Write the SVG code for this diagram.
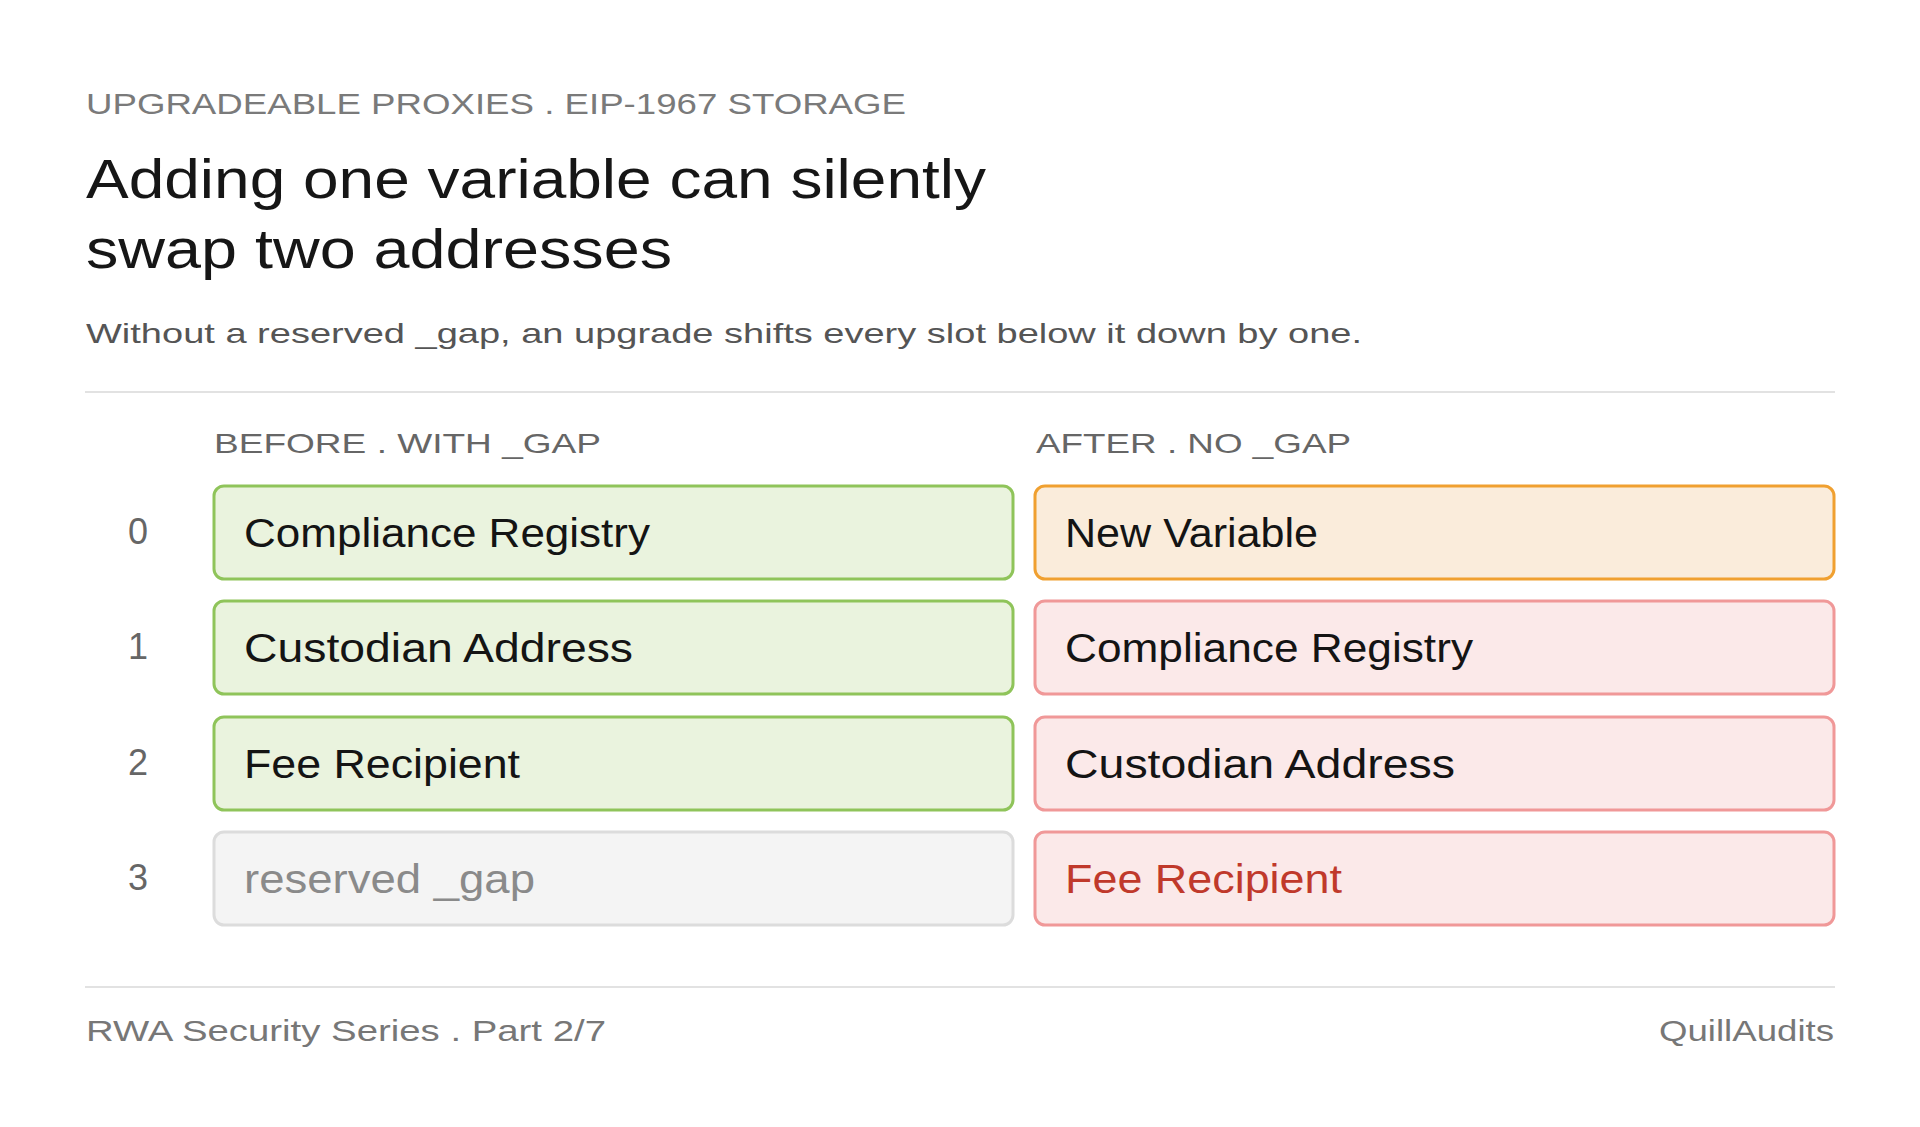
<svg xmlns="http://www.w3.org/2000/svg" width="1920" height="1127" viewBox="0 0 1920 1127">
<style>
  text { font-family: "Liberation Sans", "Noto Sans", sans-serif; }
  .eyebrow { font-size: 30px; fill: #7a7a7a; }
  .title { font-size: 56px; fill: #161616; }
  .sub { font-size: 28px; fill: #555555; }
  .colh { font-size: 28px; fill: #666666; }
  .num { font-size: 36px; fill: #666666; text-anchor: middle; }
  .lbl { font-size: 40px; fill: #141414; }
  .gaplbl { font-size: 40px; fill: #8a8a8a; }
  .redlbl { font-size: 40px; fill: #c0392b; }
  .foot { font-size: 30px; fill: #777777; }
  .rule { stroke: #e2e2e2; stroke-width: 2; }
  .green { fill: #eaf3de; stroke: #8fc45a; stroke-width: 3; }
  .orange { fill: #faecdb; stroke: #f0a030; stroke-width: 3; }
  .red { fill: #fbe9e9; stroke: #f09898; stroke-width: 3; }
  .gray { fill: #f4f4f4; stroke: #dcdcdc; stroke-width: 3; }
</style>
<rect width="1920" height="1127" fill="#ffffff"/>

<g id="header">
  <text class="eyebrow" x="86" y="114" textLength="820" lengthAdjust="spacingAndGlyphs">UPGRADEABLE PROXIES . EIP-1967 STORAGE</text>
  <text class="title" x="86" y="198" textLength="900" lengthAdjust="spacingAndGlyphs">Adding one variable can silently</text>
  <text class="title" x="86" y="268" textLength="586" lengthAdjust="spacingAndGlyphs">swap two addresses</text>
  <text class="sub" x="86" y="343" textLength="1276" lengthAdjust="spacingAndGlyphs">Without a reserved _gap, an upgrade shifts every slot below it down by one.</text>
  <line class="rule" x1="85" y1="392" x2="1835" y2="392"/>
</g>

<g id="column-headers">
  <text class="colh" x="214" y="453" textLength="387" lengthAdjust="spacingAndGlyphs">BEFORE . WITH _GAP</text>
  <text class="colh" x="1036" y="453" textLength="315" lengthAdjust="spacingAndGlyphs">AFTER . NO _GAP</text>
</g>

<g id="slot-numbers">
  <text class="num" x="138" y="544">0</text>
  <text class="num" x="138" y="659">1</text>
  <text class="num" x="138" y="775">2</text>
  <text class="num" x="138" y="890">3</text>
</g>

<g id="before-0">
  <rect class="green" x="214" y="486" width="799" height="93" rx="10"/>
  <text class="lbl" x="244" y="547" textLength="406" lengthAdjust="spacingAndGlyphs">Compliance Registry</text>
</g>
<g id="before-1">
  <rect class="green" x="214" y="601" width="799" height="93" rx="10"/>
  <text class="lbl" x="244" y="662" textLength="389" lengthAdjust="spacingAndGlyphs">Custodian Address</text>
</g>
<g id="before-2">
  <rect class="green" x="214" y="717" width="799" height="93" rx="10"/>
  <text class="lbl" x="244" y="778" textLength="276" lengthAdjust="spacingAndGlyphs">Fee Recipient</text>
</g>
<g id="before-3">
  <rect class="gray" x="214" y="832" width="799" height="93" rx="10"/>
  <text class="gaplbl" x="244" y="893" textLength="291" lengthAdjust="spacingAndGlyphs">reserved _gap</text>
</g>

<g id="after-0">
  <rect class="orange" x="1035" y="486" width="799" height="93" rx="10"/>
  <text class="lbl" x="1065" y="547" textLength="253" lengthAdjust="spacingAndGlyphs">New Variable</text>
</g>
<g id="after-1">
  <rect class="red" x="1035" y="601" width="799" height="93" rx="10"/>
  <text class="lbl" x="1065" y="662" textLength="408" lengthAdjust="spacingAndGlyphs">Compliance Registry</text>
</g>
<g id="after-2">
  <rect class="red" x="1035" y="717" width="799" height="93" rx="10"/>
  <text class="lbl" x="1065" y="778" textLength="390" lengthAdjust="spacingAndGlyphs">Custodian Address</text>
</g>
<g id="after-3">
  <rect class="red" x="1035" y="832" width="799" height="93" rx="10"/>
  <text class="redlbl" x="1065" y="893" textLength="277" lengthAdjust="spacingAndGlyphs">Fee Recipient</text>
</g>

<g id="connectors"></g>

<g id="footer">
  <line class="rule" x1="85" y1="987" x2="1835" y2="987"/>
  <text class="foot" x="86" y="1041" textLength="520" lengthAdjust="spacingAndGlyphs">RWA Security Series . Part 2/7</text>
  <text class="foot" x="1834" y="1041" text-anchor="end" textLength="175" lengthAdjust="spacingAndGlyphs">QuillAudits</text>
</g>
</svg>
